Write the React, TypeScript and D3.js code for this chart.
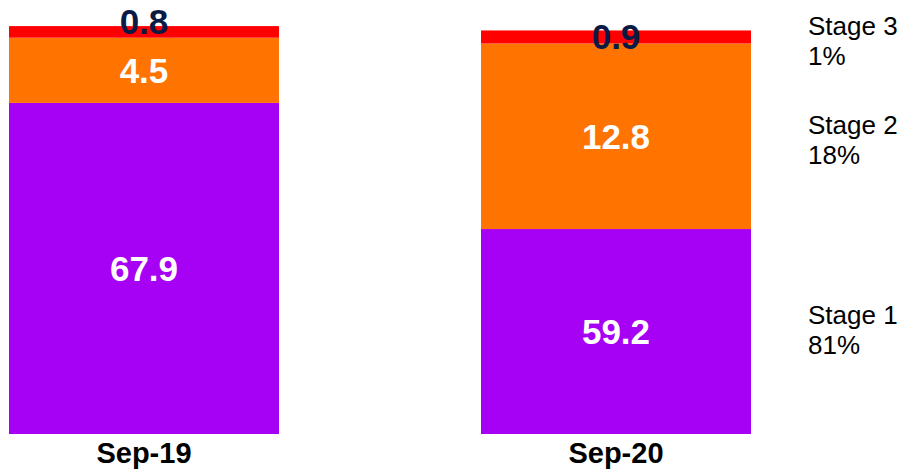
import React from "react";
import * as d3 from "d3";

// Loan book by stage (values in bn), two reporting dates
const periods = ["Sep-19", "Sep-20"];
const stage1 = [67.9, 59.2];
const stage2 = [4.5, 12.8];
const stage3 = [0.8, 0.9];
const stageNames = ["Stage 1", "Stage 2", "Stage 3"];

const W = 902;
const H = 470;
const COLORS = ["#a600f5", "#ff7300", "#ff0000"];
const LABEL_COLORS = ["#ffffff", "#ffffff", "#0b1945"];
const FONT = "Arial, 'Liberation Sans', Helvetica, sans-serif";

export default function App() {
  const rows = periods.map((p, i) => ({
    period: p,
    s1: stage1[i],
    s2: stage2[i],
    s3: stage3[i],
  }));
  const keys = ["s1", "s2", "s3"];
  const series = d3.stack<any>().keys(keys)(rows);

  const x = d3
    .scaleBand<string>()
    .domain(periods)
    .range([9, 751])
    .paddingInner(0.428)
    .paddingOuter(0);

  // value axis starts just above 45 (broken axis), clamped so bars start at the bottom
  const y = d3.scaleLinear().domain([45.06, 75]).range([434, 0]).clamp(true);

  const lastIdx = periods.length - 1;
  const lastTotal = stage1[lastIdx] + stage2[lastIdx] + stage3[lastIdx];
  const lastVals = [stage1[lastIdx], stage2[lastIdx], stage3[lastIdx]];

  // small vertical nudges for crowded labels
  const labelNudge = (k: number, i: number) => (k === 2 && i === 0 ? -10 : 0);
  const legendNudge = [-8, -2, -2];

  return (
    <svg
      width={W}
      height={H}
      style={{ position: "absolute", left: 0, top: 0, background: "#fff" }}
      fontFamily={FONT}
    >
      {series.map((s, k) => (
        <g key={keys[k]}>
          {s.map((d, i) => {
            const x0 = x(periods[i])!;
            const yTop = y(d[1]);
            const yBot = y(d[0]);
            return (
              <rect
                key={i}
                x={x0}
                y={yTop}
                width={x.bandwidth()}
                height={yBot - yTop}
                fill={COLORS[k]}
              />
            );
          })}
        </g>
      ))}
      {series.map((s, k) => (
        <g key={"lab" + keys[k]}>
          {s.map((d, i) => {
            const mid = (y(d[0]) + y(d[1])) / 2;
            return (
              <text
                key={i}
                x={x(periods[i])! + x.bandwidth() / 2}
                y={mid + 12.5 + labelNudge(k, i)}
                textAnchor="middle"
                fontSize={35}
                fontWeight="bold"
                fill={LABEL_COLORS[k]}
              >
                {(d[1] - d[0]).toFixed(1)}
              </text>
            );
          })}
        </g>
      ))}
      {periods.map((p) => (
        <text
          key={p}
          x={x(p)! + x.bandwidth() / 2}
          y={463}
          textAnchor="middle"
          fontSize={29}
          fontWeight="bold"
          fill="#000"
        >
          {p}
        </text>
      ))}
      {series.map((s, k) => {
        const d = s[lastIdx];
        const mid = (y(d[0]) + y(d[1])) / 2 + legendNudge[k];
        return (
          <text key={"leg" + k} x={808} y={mid} fontSize={26} fill="#000">
            <tspan x={808}>{stageNames[k]}</tspan>
            <tspan x={808} dy={30}>
              {Math.round((lastVals[k] / lastTotal) * 100)}%
            </tspan>
          </text>
        );
      })}
    </svg>
  );
}
